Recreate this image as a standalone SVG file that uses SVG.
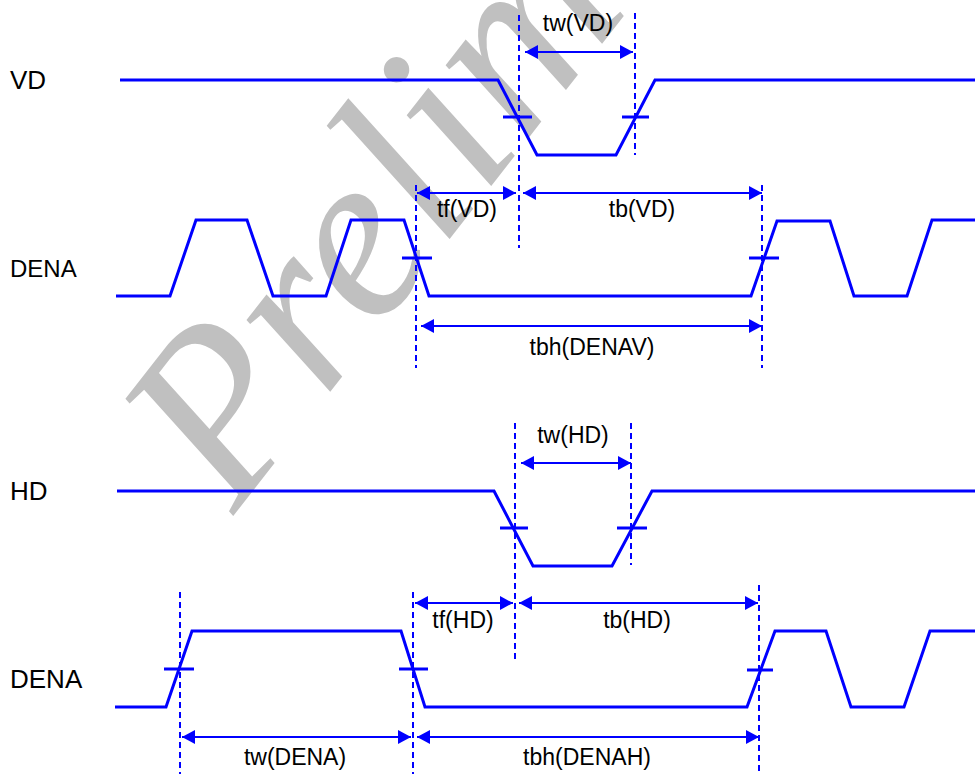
<svg xmlns="http://www.w3.org/2000/svg" width="975" height="774" viewBox="0 0 975 774">
<defs>
<marker id="ah" viewBox="0 0 13 14" refX="13" refY="7" markerWidth="13" markerHeight="14" markerUnits="userSpaceOnUse" orient="auto-start-reverse">
<path d="M0,0 L13,7 L0,14 z" fill="#0000ff"/>
</marker>
<style>
.wave{fill:none;stroke:#0000ff;stroke-width:3;stroke-linejoin:miter}
.tick{stroke:#0000ff;stroke-width:3}
.dot{stroke:#0000ff;stroke-width:2;stroke-dasharray:6 4}
.arr{stroke:#0000ff;stroke-width:2;marker-start:url(#ah);marker-end:url(#ah)}
.lbl{font-family:"Liberation Sans",Arial,sans-serif;fill:#000}
.tl{font-family:"Liberation Sans",Arial,sans-serif;font-size:23px;fill:#000;text-anchor:middle}
.wm{font-family:"Liberation Serif","Times New Roman",serif;font-style:italic;font-size:240px;fill:#c0c0c0}
</style>
</defs>
<rect width="975" height="774" fill="#fff"/>
<g id="watermark">
<text class="wm" transform="translate(234,515) rotate(-52)">Prelim</text>
</g>
<g id="VD">
<text class="lbl" x="10" y="89" font-size="26">VD</text>
<path class="wave" d="M120,80 H498 L537,155 H616 L655,80 H975"/>
<line class="tick" x1="503" y1="117" x2="532" y2="117"/>
<line class="tick" x1="622" y1="117" x2="649" y2="117"/>
</g>
<g id="DENA_V">
<text class="lbl" x="10" y="277" font-size="24">DENA</text>
<path class="wave" d="M116,296 H170 L196,220 H247 L273,296 H326 L351,220 H404 L429,296 H751 L777,221 H830 L854,296 H907 L932,220 H975"/>
<line class="tick" x1="402" y1="258" x2="432" y2="258"/>
<line class="tick" x1="749" y1="258" x2="779" y2="258"/>
</g>
<g id="HD">
<text class="lbl" x="10" y="500" font-size="26">HD</text>
<path class="wave" d="M117,491 H494 L533,566 H612 L652,491 H975"/>
<line class="tick" x1="500" y1="528" x2="528" y2="528"/>
<line class="tick" x1="617" y1="528" x2="647" y2="528"/>
</g>
<g id="DENA_H">
<text class="lbl" x="10" y="688" font-size="26">DENA</text>
<path class="wave" d="M115,707 H166 L192,631 H401 L425,707 H747 L775,631 H826 L851,707 H904 L930,631 H975"/>
<line class="tick" x1="164" y1="669" x2="194" y2="669"/>
<line class="tick" x1="399" y1="669" x2="428" y2="669"/>
<line class="tick" x1="747" y1="670" x2="773" y2="670"/>
</g>
<g id="guides">
<line class="dot" x1="519" y1="15" x2="519" y2="248"/>
<line class="dot" x1="635" y1="13" x2="635" y2="155"/>
<line class="dot" x1="416" y1="185" x2="416" y2="368"/>
<line class="dot" x1="762" y1="185" x2="762" y2="368"/>
<line class="dot" x1="515" y1="423" x2="515" y2="662"/>
<line class="dot" x1="631" y1="423" x2="631" y2="565"/>
<line class="dot" x1="180" y1="592" x2="180" y2="774"/>
<line class="dot" x1="413" y1="592" x2="413" y2="774"/>
<line class="dot" x1="759" y1="585" x2="759" y2="774"/>
</g>
<g id="connectors">
<line class="arr" x1="525" y1="52" x2="633" y2="52"/>
<line class="arr" x1="417" y1="193" x2="516" y2="193"/>
<line class="arr" x1="523" y1="193" x2="762" y2="193"/>
<line class="arr" x1="421" y1="326" x2="762" y2="326"/>
<line class="arr" x1="521" y1="463" x2="631" y2="463"/>
<line class="arr" x1="415" y1="603" x2="513" y2="603"/>
<line class="arr" x1="519" y1="603" x2="758" y2="603"/>
<line class="arr" x1="182" y1="737" x2="411" y2="737"/>
<line class="arr" x1="417" y1="737" x2="759" y2="737"/>
<text class="tl" x="578" y="31">tw(VD)</text>
<text class="tl" x="467" y="217">tf(VD)</text>
<text class="tl" x="642" y="217">tb(VD)</text>
<text class="tl" x="592" y="355">tbh(DENAV)</text>
<text class="tl" x="573" y="443">tw(HD)</text>
<text class="tl" x="463" y="628">tf(HD)</text>
<text class="tl" x="637" y="628">tb(HD)</text>
<text class="tl" x="295" y="765">tw(DENA)</text>
<text class="tl" x="587" y="765">tbh(DENAH)</text>
</g>
</svg>
